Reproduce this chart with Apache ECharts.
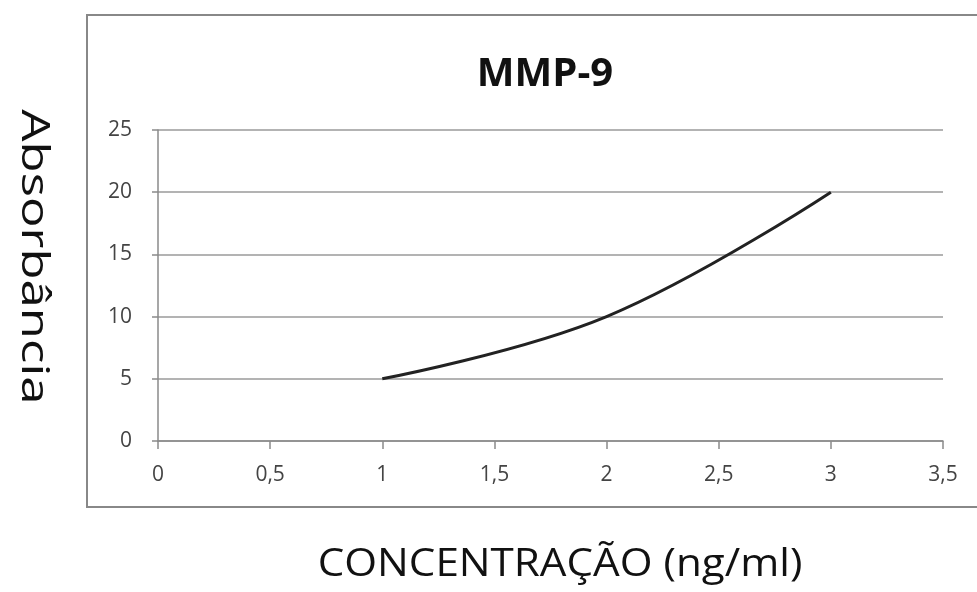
<!DOCTYPE html>
<html>
<head>
<meta charset="utf-8">
<script src="https://cdn.jsdelivr.net/npm/echarts@6/dist/echarts.min.js"></script>
<style>html,body{margin:0;padding:0;background:#fff;}#c{width:977px;height:592px;}</style>
</head>
<body>
<div id="c"></div>
<script>
const chartTitle = 'MMP-9';
const xName = 'CONCENTRAÇÃO (ng/ml)';
const yName = 'Absorbância';
const concentration = [1, 2, 3];
const absorbance = [5, 10, 20];

const chart = echarts.init(document.getElementById('c'));
const fmt = v => String(v).replace('.', ',');
chart.setOption({
  backgroundColor: '#fff',
  animation: false,
  title: {
    text: chartTitle, left: 540, top: 48, textAlign: 'center',
    textStyle: { fontFamily: 'Open Sans', fontWeight: 'bold', fontSize: 40, lineHeight: 44, color: '#111' }
  },
  grid: { left: 158, right: 34, top: 130, bottom: 151, containLabel: false },
  xAxis: {
    type: 'value', min: 0, max: 3.5, interval: 0.5,
    axisLine: { show: true, lineStyle: { color: '#8a8a8a', width: 1.5 } },
    axisTick: { show: true, length: 8, lineStyle: { color: '#8a8a8a', width: 1.5 } },
    axisLabel: { formatter: fmt, margin: 24, fontFamily: 'Open Sans', fontSize: 21, color: '#444' },
    splitLine: { show: false }
  },
  yAxis: {
    type: 'value', min: 0, max: 25, interval: 5,
    axisLine: { show: true, lineStyle: { color: '#8a8a8a', width: 1.5 } },
    axisTick: { show: true, length: 6, lineStyle: { color: '#8a8a8a', width: 1.5 } },
    axisLabel: { margin: 26, fontFamily: 'Open Sans', fontSize: 21, color: '#444' },
    splitLine: { show: true, lineStyle: { color: '#9a9a9a', width: 1.5 } }
  },
  graphic: [
    { type: 'rect', shape: { x: 87, y: 15, width: 920, height: 492 }, style: { fill: 'none', stroke: '#888', lineWidth: 2 }, z: -10 },
    { type: 'text', x: 560, y: 565, scaleX: 1.11, scaleY: 1,
      style: { text: xName, fontFamily: 'Open Sans', fontSize: 38, fill: '#111', align: 'center', verticalAlign: 'middle' } },
    { type: 'text', x: 33, y: 257, rotation: -Math.PI / 2, scaleX: 1.34, scaleY: 1,
      style: { text: yName, fontFamily: 'Open Sans', fontSize: 38, fill: '#111', align: 'center', verticalAlign: 'middle' } }
  ],
  series: [{
    type: 'line', smooth: 0.4, showSymbol: false,
    data: concentration.map((x, i) => [x, absorbance[i]]),
    lineStyle: { color: '#222', width: 3 }
  }]
});
</script>
</body>
</html>
